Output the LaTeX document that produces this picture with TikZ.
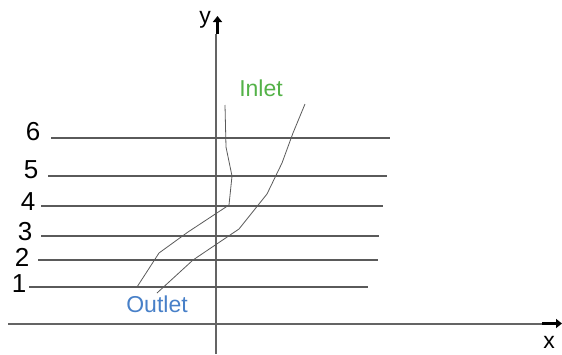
\documentclass[tikz,border=0pt]{standalone}
\usepackage{fontspec}
\setmainfont{Liberation Sans}
\usetikzlibrary{arrows.meta}
\definecolor{inletgreen}{RGB}{84,178,72}
\definecolor{outletblue}{RGB}{72,128,200}
\definecolor{linegray}{RGB}{90,90,90}
\definecolor{axisgray}{RGB}{100,100,100}
\begin{document}
\begin{tikzpicture}[x=1pt,y=-1pt,
  lab/.style={font=\fontsize{23}{23}\selectfont, inner sep=0pt},
  num/.style={font=\fontsize{26}{26}\selectfont, inner sep=0pt},
  grid/.style={draw=linegray, line width=1.1pt},
  axis/.style={draw=axisgray, line width=1.2pt},
  curve/.style={draw=linegray, line width=0.8pt, line join=round},
  bigarrow/.style={draw=black, line width=3.5pt, -{Triangle[length=6pt,width=9pt]}}]
\useasboundingbox (0,0) rectangle (562,354);
% axes
\coordinate (xs) at (8,324);
\coordinate (xe) at (542,324);
\coordinate (ys) at (216,354);
\coordinate (ye) at (216,34);
\draw[axis] (xs) -- (xe);
\draw[axis] (ys) -- (ye);
\coordinate (xa1) at (542,323.5);
\coordinate (xa2) at (562,323.5);
\coordinate (ya1) at (217.5,34);
\coordinate (ya2) at (217.5,16);
\draw[bigarrow] (xa1) -- (xa2);
\draw[bigarrow] (ya1) -- (ya2);
\node[lab] (xl) at (549,342) {x};
\node[lab] (yl) at (205,20) {y};
% levels
\node[num] (l6) at (33,132) {6};
\node[num] (l5) at (31,170) {5};
\node[num] (l4) at (28,202) {4};
\node[num] (l3) at (25,232) {3};
\node[num] (l2) at (22,257) {2};
\node[num] (l1) at (19,284) {1};
\coordinate (g6a) at (51,138); \coordinate (g6b) at (390,138);
\coordinate (g5a) at (48,176); \coordinate (g5b) at (387,176);
\coordinate (g4a) at (41,206); \coordinate (g4b) at (383,206);
\coordinate (g3a) at (41,236); \coordinate (g3b) at (379,236);
\coordinate (g2a) at (38,260); \coordinate (g2b) at (378,260);
\coordinate (g1a) at (29,287); \coordinate (g1b) at (368,287);
\draw[grid] (g6a) -- (g6b);
\draw[grid] (g5a) -- (g5b);
\draw[grid] (g4a) -- (g4b);
\draw[grid] (g3a) -- (g3b);
\draw[grid] (g2a) -- (g2b);
\draw[grid] (g1a) -- (g1b);
% curves
\draw[curve] (225,105) -- (226,147) -- (232,176) -- (229,205) -- (188,232) -- (159,253) -- (137,287);
\draw[curve] (305,104) -- (293,133) -- (282,163) -- (267,194) -- (239,229) -- (193,260) -- (157,293);
\node[lab, text=inletgreen] (inlet) at (261,88) {Inlet};
\node[lab, text=outletblue] (outlet) at (157,304) {Outlet};
\end{tikzpicture}
\end{document}
